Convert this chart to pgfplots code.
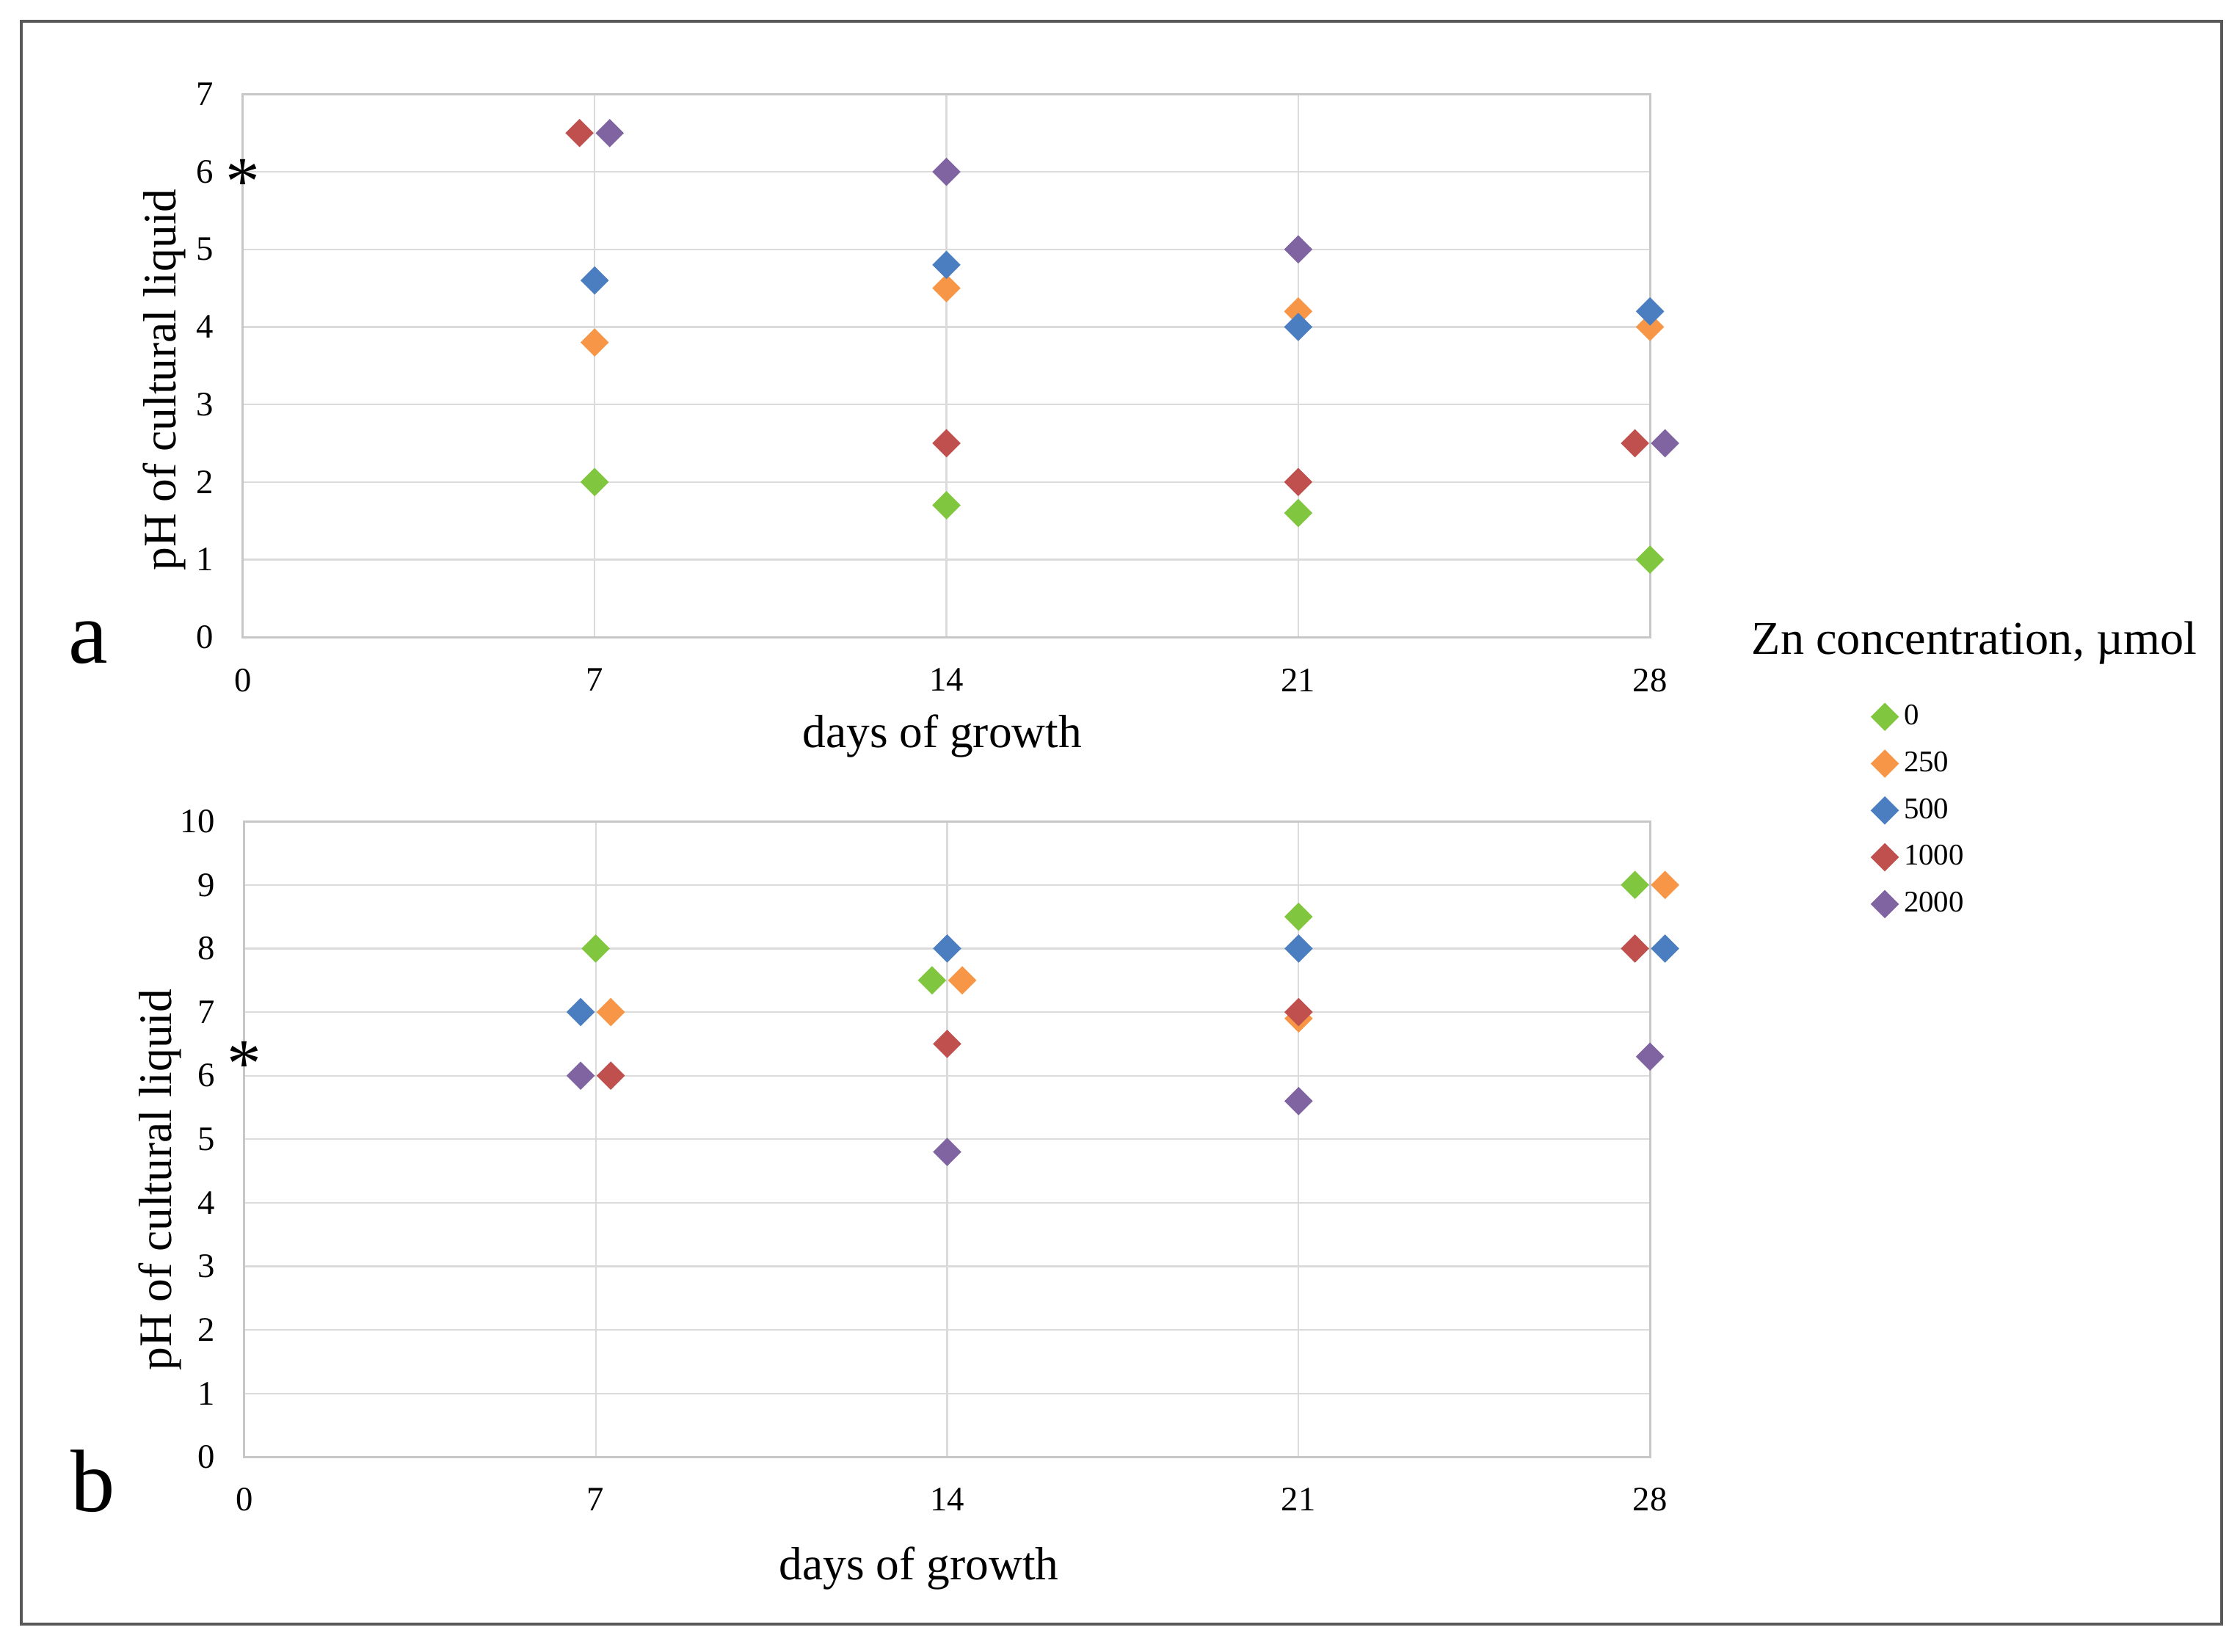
\documentclass[border=0pt]{standalone}
\usepackage{fontspec}
\setmainfont{Liberation Serif}
\usepackage{pgfplots}
\pgfplotsset{compat=1.18}
\definecolor{cG}{RGB}{128,198,62}
\definecolor{cO}{RGB}{247,150,70}
\definecolor{cB}{RGB}{74,126,193}
\definecolor{cR}{RGB}{192,80,77}
\definecolor{cP}{RGB}{128,100,162}
\pgfplotsset{
  myax/.style={
    scale only axis,
    xmin=0, xmax=28,
    xtick={0,7,14,21,28},
    grid=major,
    major grid style={color=black!14, line width=0.6pt},
    axis line style={color=black!22, line width=0.8pt},
    major tick length=0pt,
    tick label style={font=\fontsize{12}{14}\selectfont},
    yticklabel style={xshift=-6.8pt},
    /pgf/number format/assume math mode=true,
    label style={font=\fontsize{16.3}{19}\selectfont},
    clip=false,
  },
  ser/.style={only marks, mark=square*, mark size=3.3pt, mark options={rotate=45, draw=none, fill=#1}, color=#1},
}
\begin{document}
\begin{tikzpicture}[x=1pt,y=1pt]
\path (0,0) rectangle (784,-578);
\draw[line width=1pt, color=black!65] (7.5,-7.5) rectangle (777.5,-568.5);

\begin{axis}[myax, at={(85pt,-223pt)}, anchor=south west,
  width=492.5pt, height=190pt, ymin=0, ymax=7, ytick={0,...,7},
  xticklabel style={yshift=-7.5pt},
  xlabel={days of growth}, ylabel={pH of cultural liquid},
  xlabel style={at={(axis description cs:0.497,-0.182)}, anchor=center},
  ylabel style={at={(axis description cs:-0.0558,0.474)}, anchor=center},
  legend style={at={(axis description cs:1.157,-0.113)}, anchor=north west,
    draw=none, fill=none, font=\fontsize{10.5}{12}\selectfont,
    legend cell align=left, inner sep=0pt, row sep=3.9pt},
  legend image code/.code={\draw[mark repeat=2,mark phase=2,#1] plot coordinates {(0cm,0cm) (0.15cm,0cm) (0.52cm,0cm)};},
]
\addplot[ser=cG] coordinates {(7,2.0) (14,1.7) (21,1.6) (28,1.0)};
\addplot[ser=cO] coordinates {(7,3.8) (14,4.5) (21,4.2) (28,4.0)};
\addplot[ser=cB] coordinates {(7,4.6) (14,4.8) (21,4.0) (28,4.2)};
\addplot[ser=cR] coordinates {(6.7,6.5) (14,2.5) (21,2.0) (27.7,2.5)};
\addplot[ser=cP] coordinates {(7.3,6.5) (14,6.0) (21,5.0) (28.3,2.5)};
\legend{0,250,500,1000,2000}
\node[font=\fontsize{24}{26}\selectfont, anchor=base, yshift=-11.3pt] at (axis cs:0,6) {*};
\end{axis}

\begin{axis}[myax, at={(85.5pt,-510pt)}, anchor=south west,
  width=492pt, height=222.5pt, ymin=0, ymax=10, ytick={0,...,10},
  xticklabel style={yshift=-7.3pt},
  xlabel={days of growth}, ylabel={pH of cultural liquid},
  xlabel style={at={(axis description cs:0.48,-0.175)}, anchor=center},
  ylabel style={at={(axis description cs:-0.06,0.436)}, anchor=center},
]
\addplot[ser=cG] coordinates {(7,8.0) (13.7,7.5) (21,8.5) (27.7,9.0)};
\addplot[ser=cO] coordinates {(7.3,7.0) (14.3,7.5) (21,6.9) (28.3,9.0)};
\addplot[ser=cB] coordinates {(6.7,7.0) (14,8.0) (21,8.0) (28.3,8.0)};
\addplot[ser=cR] coordinates {(7.3,6.0) (14,6.5) (21,7.0) (27.7,8.0)};
\addplot[ser=cP] coordinates {(6.7,6.0) (14,4.8) (21,5.6) (28,6.3)};
\node[font=\fontsize{24}{26}\selectfont, anchor=base, yshift=-11.3pt] at (axis cs:0,6.34) {*};
\end{axis}

\node[font=\fontsize{16.5}{19}\selectfont] at (691,-225) {Zn concentration, µmol};
\node[font=\fontsize{31}{34}\selectfont, anchor=base] at (31,-232) {a};
\node[font=\fontsize{31}{34}\selectfont, anchor=base] at (32.5,-529) {b};
\end{tikzpicture}
\end{document}
